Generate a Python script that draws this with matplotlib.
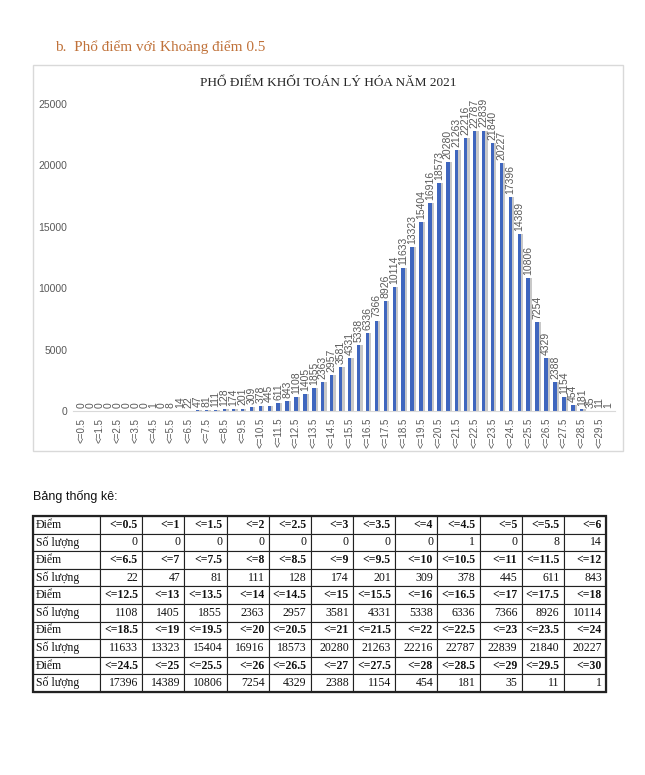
import matplotlib
matplotlib.use("Agg")
import matplotlib.pyplot as plt
from matplotlib.patches import Rectangle
import numpy as np

# score bins (step 0.5) and number of candidates
bins = [0.5, 1, 1.5, 2, 2.5, 3, 3.5, 4, 4.5, 5, 5.5, 6,
        6.5, 7, 7.5, 8, 8.5, 9, 9.5, 10, 10.5, 11, 11.5, 12,
        12.5, 13, 13.5, 14, 14.5, 15, 15.5, 16, 16.5, 17, 17.5, 18,
        18.5, 19, 19.5, 20, 20.5, 21, 21.5, 22, 22.5, 23, 23.5, 24,
        24.5, 25, 25.5, 26, 26.5, 27, 27.5, 28, 28.5, 29, 29.5, 30]
counts = [0, 0, 0, 0, 0, 0, 0, 0, 1, 0, 8, 14,
          22, 47, 81, 111, 128, 174, 201, 309, 378, 445, 611, 843,
          1108, 1405, 1855, 2363, 2957, 3581, 4331, 5338, 6336, 7366, 8926, 10114,
          11633, 13323, 15404, 16916, 18573, 20280, 21263, 22216, 22787, 22839, 21840, 20227,
          17396, 14389, 10806, 7254, 4329, 2388, 1154, 454, 181, 35, 11, 1]
labels = ["<=" + (str(int(b)) if b == int(b) else str(b)) for b in bins]

heading = "b.  Phổ điểm với Khoảng điểm 0.5"
chart_title = "PHỔ ĐIỂM KHỐI TOÁN LÝ HÓA NĂM 2021"
table_title = "Bảng thống kê:"
row_names = ["Điểm", "Số lượng"]

W, H = 645, 775
fig = plt.figure(figsize=(W / 100, H / 100), dpi=100)

def fx(px):
    return px / W

def fy(py):
    return 1 - py / H

sans = "Liberation Sans"
serif = "Liberation Serif"
grey = "#595959"

fig.text(fx(55), fy(47), heading, fontsize=11, family=serif,
         color="#C0723A", va="center", ha="left")

# chart frame
fig.patches.append(Rectangle((fx(33), fy(451)), fx(623) - fx(33), fy(65) - fy(451),
                             transform=fig.transFigure, fill=False,
                             edgecolor="#D9D9D9", linewidth=1.0))
fig.text(fx(328), fy(83), chart_title, fontsize=9.5, family=serif,
         color="#262626", ha="center", va="center")

ax = fig.add_axes([fx(73), fy(411), fx(615) - fx(73), fy(104) - fy(411)])
x = np.arange(len(counts))
ax.bar(x + 0.24, counts, width=0.42, color="#C8C8C8", zorder=1)
ax.bar(x, counts, width=0.38, color="#3F66BE", zorder=2)
for xi, c in zip(x, counts):
    ax.text(xi, c + 250, str(c), rotation=90, ha="center", va="bottom",
            fontsize=7.5, family=sans, color=grey, clip_on=False)

ax.set_xlim(-0.97, 59.72)
ax.set_ylim(0, 25000)
ax.set_yticks(np.arange(0, 25001, 5000))
ax.set_xticks(x[::2])
ax.set_xticklabels(labels[::2], rotation=90, fontsize=7, family=sans, color=grey)
ax.tick_params(axis="x", length=0, pad=5)
ax.tick_params(axis="y", length=0, pad=4, labelsize=7.5, labelcolor=grey)
for t in ax.get_yticklabels():
    t.set_family(sans)
for s in ["top", "right", "left"]:
    ax.spines[s].set_visible(False)
ax.spines["bottom"].set_color("#D9D9D9")
ax.patch.set_alpha(0)

# statistics table
fig.text(fx(33), fy(497), table_title, fontsize=9, family=sans,
         color="#111111", va="center", ha="left")

ncol = 12
cell_text = []
for r in range(5):
    chunk_b = labels[r * ncol:(r + 1) * ncol]
    chunk_c = [str(c) for c in counts[r * ncol:(r + 1) * ncol]]
    cell_text.append([row_names[0]] + chunk_b)
    cell_text.append([row_names[1]] + chunk_c)

tax = fig.add_axes([fx(33), fy(692), fx(606) - fx(33), fy(516) - fy(692)])
tax.axis("off")
first_w = 67
other_w = (606 - 33 - first_w) / ncol
col_w = [first_w / (606 - 33)] + [other_w / (606 - 33)] * ncol
tbl = tax.table(cellText=cell_text, colWidths=col_w, cellLoc="right",
                bbox=[0, 0, 1, 1])
tbl.auto_set_font_size(False)
for (r, c), cell in tbl.get_celld().items():
    cell.set_linewidth(0.8)
    cell.set_edgecolor("#222222")
    txt = cell.get_text()
    txt.set_fontsize(8.5)
    txt.set_family(serif)
    txt.set_color("#111111")
    if c == 0:
        cell.set_text_props(ha="left")
        cell.PAD = 0.04
    else:
        cell.PAD = 0.1
        if r % 2 == 0:
            txt.set_fontweight("bold")
fig.patches.append(Rectangle((fx(33), fy(692)), fx(606) - fx(33), fy(516) - fy(692),
                             transform=fig.transFigure, fill=False,
                             edgecolor="#222222", linewidth=1.6))

fig.savefig("out.png", dpi=100)
